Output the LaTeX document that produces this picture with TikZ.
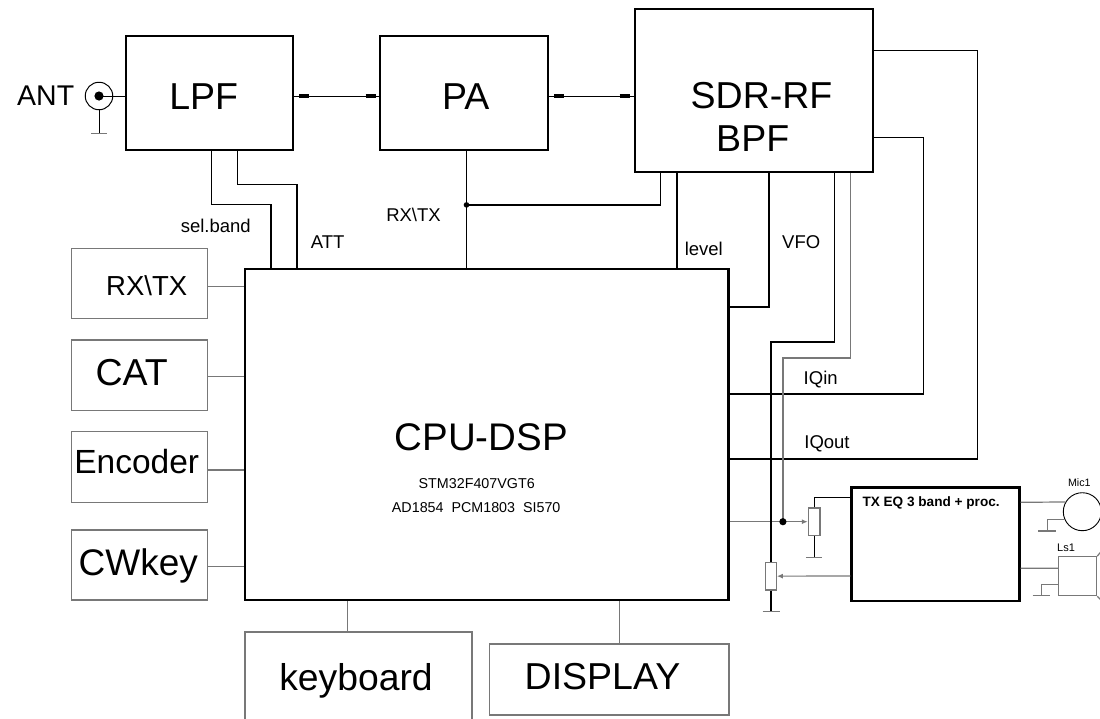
\documentclass[tikz,border=0pt]{standalone}
\usepackage{fontspec}
\setmainfont{Liberation Sans}
\usetikzlibrary{calc,arrows.meta}
\definecolor{graycol}{RGB}{120,120,120}
\begin{document}
\begin{tikzpicture}[x=1pt,y=-1pt,
  thickbox/.style={draw, line width=2.8pt, inner sep=0pt},
  thinbox/.style={draw=graycol, line width=1.1pt, inner sep=0pt},
  potbox/.style={draw=graycol, line width=1.1pt, inner sep=0pt, fill=white},
  wire/.style={line width=1.3pt, black},
  gwire/.style={line width=1.2pt, graycol},
  gnd/.style={line width=1.2pt, graycol},
  lbl/.style={anchor=base, inner sep=0pt, font=\fontsize{18.5}{20}\selectfont},
  txt/.style={anchor=base, inner sep=0pt},
  tipmark/.style={line width=3.6pt, black},
  arr/.style={-{Latex[length=6pt,width=5pt]}}
]
\useasboundingbox (0,0) rectangle (1100,718);
\clip (0,0) rectangle (1100,718);

% ---------- main blocks ----------
\node[thickbox, minimum width=167pt, minimum height=114pt] (lpf) at (209.5,93) {};
\node[txt, font=\fontsize{37.5}{40}\selectfont] at (203.7,109.3) {LPF};
\node[thickbox, minimum width=168pt, minimum height=114pt] (pa) at (464,93) {};
\node[txt, font=\fontsize{37.5}{40}\selectfont] at (465.8,109.3) {PA};
\node[thickbox, minimum width=238pt, minimum height=163pt] (sdr) at (754,90.5) {};
\node[txt, font=\fontsize{37.5}{40}\selectfont] at (761.5,108.3) {SDR-RF};
\node[txt, font=\fontsize{37.5}{40}\selectfont] at (752.7,151.7) {BPF};
\node[thickbox, minimum width=483.5pt, minimum height=331pt] (cpu) at (486.75,434.5) {};
\node[txt, font=\fontsize{38.5}{40}\selectfont] at (481.3,450) {CPU-DSP};
\node[txt, font=\fontsize{14.3}{16}\selectfont] at (476.7,488.3) {STM32F407VGT6};
\node[txt, font=\fontsize{14.3}{16}\selectfont] at (476.2,512.3) {AD1854~~PCM1803~~SI570};
\node[thickbox, minimum width=167.6pt, minimum height=113.7pt] (txeq) at (935.5,544.15) {};
\node[anchor=base west, inner sep=0pt, font=\bfseries\fontsize{13.6}{15}\selectfont] at (862.3,506) {TX EQ 3 band + proc.};

% ---------- left boxes ----------
\node[thinbox, minimum width=135.6pt, minimum height=70pt] (rxtxb) at (139.5,283.3) {};
\node[txt, font=\fontsize{27.5}{30}\selectfont] at (146.7,295) {RX\textbackslash TX};
\node[thinbox, minimum width=135.6pt, minimum height=70.7pt] (catb) at (139.5,375.35) {};
\node[txt, font=\fontsize{37.5}{40}\selectfont] at (131.7,385) {CAT};
\node[thinbox, minimum width=135.6pt, minimum height=70.6pt] (encb) at (139.5,467) {};
\node[txt, font=\fontsize{33.5}{36}\selectfont] at (136.7,473.3) {Encoder};
\node[thinbox, minimum width=135.6pt, minimum height=70pt] (cwb) at (139.5,565) {};
\node[txt, font=\fontsize{37}{38}\selectfont] at (138.3,575) {CWkey};

\draw[gwire] ([yshift=-3.4pt]rxtxb.east) -- ([yshift=-3.4pt]rxtxb.east -| cpu.west);
\draw[gwire] ([yshift=-1.35pt]catb.east) -- ([yshift=-1.35pt]catb.east -| cpu.west);
\draw[gwire] ([yshift=-3pt]encb.east) -- ([yshift=-3pt]encb.east -| cpu.west);
\draw[gwire] ([yshift=-1.7pt]cwb.east) -- ([yshift=-1.7pt]cwb.east -| cpu.west);

% ---------- bottom boxes ----------
\node[thinbox, minimum width=227pt, minimum height=108pt] (kb) at (358.5,686) {};
\node[txt, font=\fontsize{37.3}{40}\selectfont] at (356,690) {keyboard};
\node[thinbox, minimum width=239.7pt, minimum height=71pt] (disp) at (609.15,679.5) {};
\node[txt, font=\fontsize{37.5}{40}\selectfont] at (602.5,689.3) {DISPLAY};
\draw[gwire] ([xshift=-11.2pt]kb.north) -- ([xshift=-11.2pt]kb.north |- cpu.south);
\draw[gwire] ([xshift=10.15pt]disp.north) -- ([xshift=10.15pt]disp.north |- cpu.south);

% ---------- antenna ----------
\node[txt, font=\fontsize{28.5}{30}\selectfont] at (45.7,105) {ANT};
\node[circle, draw, line width=1pt, minimum size=27.5pt, inner sep=0pt] (ant) at (99,96) {};
\fill (ant.center) circle (4.6);
\draw[line width=1pt] (ant.center) -- (ant.center -| lpf.west);
\draw[line width=1pt] (ant.south) -- ++(0,23) coordinate (antg);
\draw[gnd] ([xshift=-8pt]antg) -- ([xshift=8pt]antg);

% ---------- RF chain ----------
\coordinate (rfy) at (0,96);
\draw[line width=1pt] (lpf.east |- rfy) -- (pa.west |- rfy);
\draw[tipmark] (lpf.east |- rfy) ++(5,0) -- ++(10,0);
\draw[tipmark] (pa.west |- rfy) ++(-13,0) -- ++(10,0);
\draw[line width=1pt] (pa.east |- rfy) -- (sdr.west |- rfy);
\draw[tipmark] (pa.east |- rfy) ++(5,0) -- ++(10,0);
\draw[tipmark] (sdr.west |- rfy) ++(-14,0) -- ++(10,0);

% ---------- control lines ----------
\draw[wire] ([xshift=87pt]lpf.south west) -- ++(0,53) -| ([xshift=27.5pt]cpu.north west);
\draw[wire] ([xshift=113pt]lpf.south west) -- ++(0,33) -| ([xshift=53.5pt]cpu.north west);
\draw[wire] ([xshift=2.5pt]pa.south) -- ([xshift=2.5pt]pa.south |- cpu.north);
\path ([xshift=2.5pt]pa.south) ++(0,53.5) coordinate (j);
\fill (j) circle (2.8);
\draw[wire] (j) -| ([xshift=27pt]sdr.south west);
\draw[wire] ([xshift=43.5pt]sdr.south west) -- ([xshift=43.5pt]sdr.south west |- cpu.north);
\draw[wire, line width=1.8pt] ([xshift=135pt]sdr.south west) |- ([yshift=127.5pt]cpu.east);

\node[lbl] at (215.8,232.7) {sel.band};
\node[lbl] at (327.6,248.3) {ATT};
\node[lbl] at (413.5,221.7) {RX\textbackslash TX};
\node[lbl] at (703.8,255) {level};
\node[lbl] at (801.2,248.3) {VFO};
\node[lbl] at (820.7,384) {IQin};
\node[lbl] at (827,448.3) {IQout};

% ---------- IQ lines ----------
\draw[wire, line width=1.6pt] ([yshift=-43pt]sdr.north east) -- ++(103,0) |- ([yshift=-24.5pt]cpu.east);
\draw[wire, line width=1.6pt] ([yshift=-130pt]sdr.north east) -- ++(49,0) |- ([yshift=40.5pt]cpu.east);

% ---------- pots ----------
\node[potbox, minimum width=11.7pt, minimum height=27.4pt] (pot1) at (814.15,521.7) {};
\node[potbox, minimum width=10.6pt, minimum height=27.7pt] (pot2) at (771,576.15) {};

\path ([yshift=-87.2pt]cpu.east) ++(53,0) coordinate (jj);
\draw[gwire, arr] ([yshift=-87.2pt]cpu.east) -- (pot1.west);
\draw[wire] ([xshift=200.7pt]sdr.south west) -- ++(0,168.5) -| (pot2.north);
\draw[wire, graycol] ([xshift=217pt]sdr.south west) -- ++(0,184.7) -| (jj);
\fill (jj) circle (3.6);

\draw[wire] (pot1.north) |- ([yshift=46.85pt]txeq.west);
\draw[wire] (pot1.south) -- ++(0,21.3) coordinate (g1);
\draw[gnd] ([xshift=-8.3pt]g1) -- ([xshift=8.3pt]g1);
\draw[wire] (pot2.south) -- ++(0,21) coordinate (g2);
\draw[gnd] ([xshift=-8.5pt]g2) -- ([xshift=8.5pt]g2);
\draw[gwire, arr] ([yshift=-31.85pt]txeq.west) -- (pot2.east);

% ---------- mic & speaker ----------
\node[circle, draw, line width=0.9pt, minimum size=38pt, inner sep=0pt] (mic) at (1082.3,511.7) {};
\node[txt, font=\fontsize{10.7}{12}\selectfont] at (1079.3,486) {Mic1};
\draw[gwire] ([yshift=41.85pt]txeq.east) -- (mic.150);
\draw[gwire] (mic.204) -- ++(-17.2,0) -- ++(0,11.4) coordinate (g3);
\draw[gnd] ([xshift=-9pt]g3) -- ([xshift=9pt]g3);

\node[draw=graycol, line width=1.1pt, inner sep=0pt, minimum width=38.4pt, minimum height=39pt] (ls) at (1077.5,576.2) {};
\node[txt, font=\fontsize{11}{12}\selectfont] at (1066,551.7) {Ls1};
\draw[gwire] ([yshift=-24.15pt]txeq.east) -- ([yshift=7.9pt]ls.west);
\draw[gwire] ([yshift=-8.1pt]ls.west) -- ++(-16.6,0) -- ++(0,11.4) coordinate (g4);
\draw[gnd] ([xshift=-8.5pt]g4) -- ([xshift=8.5pt]g4);
\draw[gwire] (ls.north east) -- ++(10,-12);
\draw[gwire] (ls.south east) -- ++(10,10);
\end{tikzpicture}
\end{document}
